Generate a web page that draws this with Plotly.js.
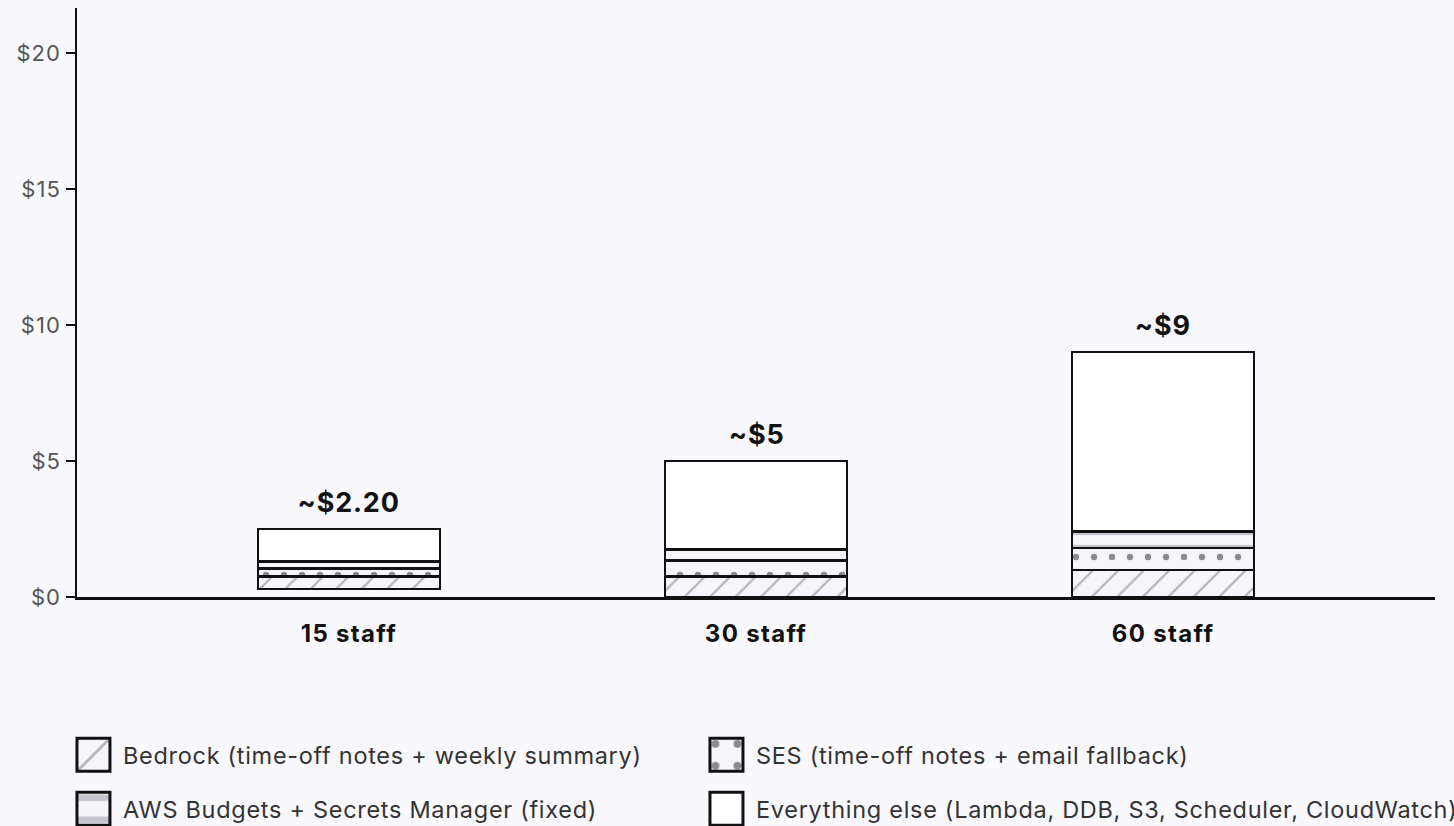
<!DOCTYPE html>
<html>
<head>
<meta charset="utf-8">
<script src="https://cdn.plot.ly/plotly-3.0.1.min.js"></script>
<style>
html,body{margin:0;padding:0;background:#f8f8fd;}
#chart{width:1454px;height:826px;}
#chart text{letter-spacing:0.03em;}
#chart .xtick text{letter-spacing:0.055em;}
#chart .ytick text{letter-spacing:0.05em;}
#chart .legend .scrollbox, #chart .legend2 .scrollbox{clip-path:none !important;}
#chart .legend g, #chart .legend2 g{clip-path:none !important;}
</style>
</head>
<body>
<div id="chart"></div>
<script>
// ---- data ----
const categories = ["15 staff", "30 staff", "60 staff"];
const baseOffset = [0.3, 0, 0];
const bedrock = [0.45, 0.75, 1.0];
const ses = [0.3, 0.6, 0.8];
const budgetsSecrets = [0.25, 0.4, 0.6];
const everythingElse = [1.2, 3.25, 6.6];
const totalLabels = ["~$2.20", "~$5", "~$9"];
const seriesNames = [
  "Bedrock (time-off notes + weekly summary)",
  "SES (time-off notes + email fallback)",
  "AWS Budgets + Secrets Manager (fixed)",
  "Everything else (Lambda, DDB, S3, Scheduler, CloudWatch)"
];

const BG = "#f8f8fd";
const LINE = {color: "#111", width: 2.5};
const W = 0.447;
const FONT = "Inter, 'Liberation Sans', sans-serif";

const traces = [
  {type: "bar", x: categories, y: baseOffset, width: W, showlegend: false, hoverinfo: "skip",
   marker: {color: "rgba(0,0,0,0)", line: {width: 0}}},
  {type: "bar", x: categories, y: bedrock, name: seriesNames[0], width: W, legend: "legend",
   marker: {color: "#f4f4f8", line: LINE, pattern: {shape: "/", fgcolor: "#b0b0b8", bgcolor: "#f6f6fa", size: 18, solidity: 0.12}}},
  {type: "bar", x: categories, y: ses, name: seriesNames[1], width: W, legend: "legend",
   marker: {color: "#f6f6fa", line: LINE, pattern: {shape: ".", fgcolor: "#8a8a92", bgcolor: "#f6f6fa", size: 18, solidity: 0.1}}},
  {type: "bar", x: categories, y: budgetsSecrets, name: seriesNames[2], width: W, legend: "legend2",
   marker: {color: "#f6f6fa", line: LINE, pattern: {shape: "-", fgcolor: "#c4c4cc", bgcolor: "#f6f6fa", size: 14, solidity: 0.3}}},
  {type: "bar", x: categories, y: everythingElse, name: seriesNames[3], width: W, legend: "legend2",
   marker: {color: "#ffffff", line: LINE}}
];

const totals = categories.map((c, i) => baseOffset[i] + bedrock[i] + ses[i] + budgetsSecrets[i] + everythingElse[i]);
const annotations = categories.map((c, i) => ({
  x: c, y: totals[i], xref: "x", yref: "y", text: totalLabels[i], showarrow: false,
  yanchor: "bottom", yshift: 8, font: {family: FONT, size: 27, color: "#111", weight: 700}
}));

const legendCommon = {
  orientation: "h", xanchor: "left", yanchor: "middle", x: -0.0096,
  entrywidth: 569, entrywidthmode: "pixels", itemwidth: 49,
  font: {family: FONT, size: 23.5, color: "#333"}, bgcolor: "rgba(0,0,0,0)", traceorder: "normal"
};

const layout = {
  width: 1454, height: 826,
  paper_bgcolor: BG, plot_bgcolor: BG,
  margin: {l: 77, r: 19, t: 8, b: 229, autoexpand: false},
  barmode: "stack",
  font: {family: FONT, color: "#333"},
  xaxis: {
    range: [-0.668, 2.668], showgrid: false, zeroline: false, automargin: false,
    showline: true, linecolor: "#111", linewidth: 2.5, ticks: "",
    tickfont: {family: FONT, size: 24, color: "#111", weight: 700}, ticklabelstandoff: 14
  },
  yaxis: {
    range: [0, 21.65], dtick: 5, tick0: 0, tickprefix: "$", showgrid: false, zeroline: false, automargin: false,
    showline: true, linecolor: "#111", linewidth: 2.5, ticks: "outside", ticklen: 9, tickwidth: 2.5, tickcolor: "#111",
    tickfont: {family: FONT, size: 22, color: "#555"}, ticklabelstandoff: 0
  },
  legend: Object.assign({}, legendCommon, {y: -0.2683}),
  legend2: Object.assign({}, legendCommon, {y: -0.3599}),
  annotations: annotations,
  showlegend: true
};

function enlargeSwatches(gd) {
  gd.querySelectorAll(".legendpoints path").forEach(function (path) {
    if (path.getAttribute("data-big") === "1") return;
    let tr = path.parentNode;
    while (tr && tr !== gd && !(tr.classList && tr.classList.contains("traces"))) tr = tr.parentNode;
    let tx = 59;
    if (tr && tr !== gd) {
      const txt = tr.querySelector("text");
      if (txt && txt.getAttribute("x")) tx = parseFloat(txt.getAttribute("x")) || 59;
    }
    path.setAttribute("transform", "translate(" + (tx - 29.5) + ",0) scale(2.75)");
    path.setAttribute("data-big", "1");
    path.style.vectorEffect = "non-scaling-stroke";
    path.style.strokeWidth = "3px";
    path.style.stroke = "#111";
  });
}

const gdEl = document.getElementById("chart");
const observer = new MutationObserver(function () { enlargeSwatches(gdEl); });
observer.observe(gdEl, {childList: true, subtree: true});
Plotly.newPlot(gdEl, traces, layout, {displayModeBar: false, staticPlot: true}).then(function (gd) {
  enlargeSwatches(gd);
  gd.on("plotly_afterplot", function () { enlargeSwatches(gd); });
  requestAnimationFrame(function () { enlargeSwatches(gd); });
  setTimeout(function () { enlargeSwatches(gd); }, 30);
});
</script>
</body>
</html>
